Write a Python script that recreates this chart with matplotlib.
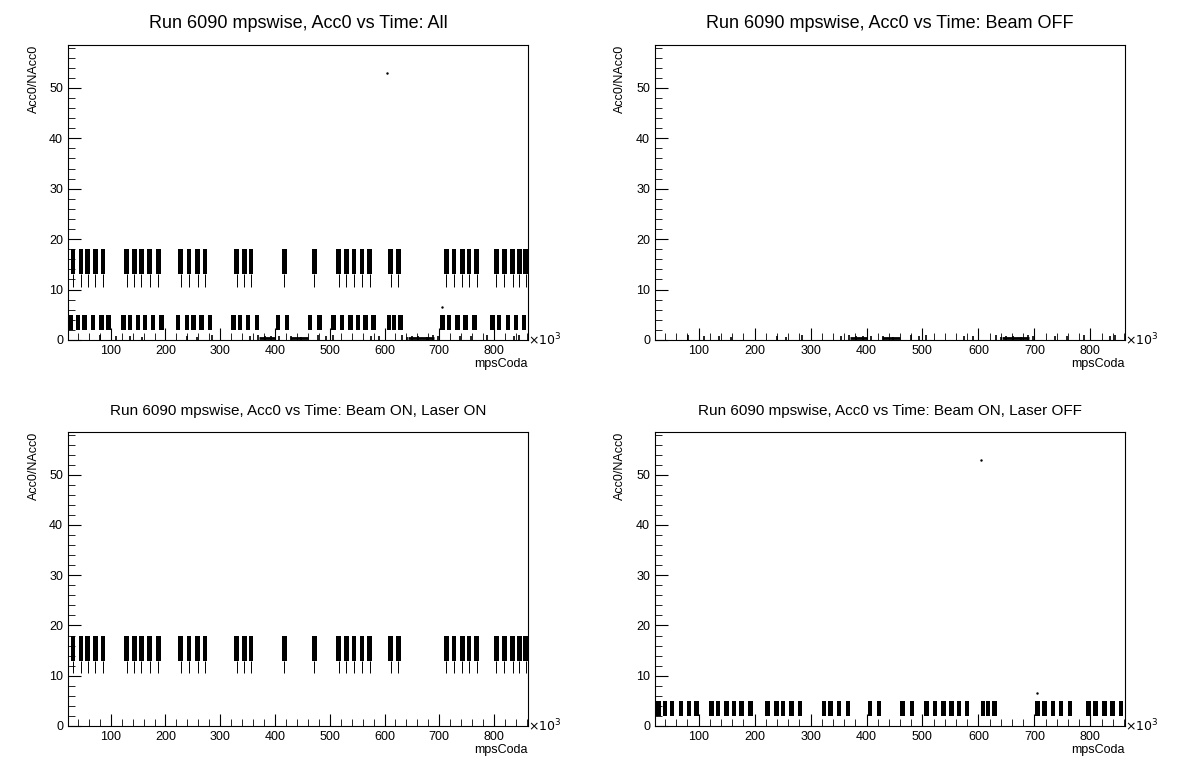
import matplotlib
matplotlib.use("Agg")
import matplotlib.pyplot as plt
from matplotlib.ticker import MultipleLocator

plt.rcParams['font.family'] = ['Liberation Sans', 'DejaVu Sans']

# laser ON bursts (x in k mpsCoda)
on_x = [31,46,58,72,86, 129,143,156,171,187, 228,243,259,272, 330,344,356, 417, 472,
        516,530,544,559,573, 611,625, 713,727,742,754,768, 804,819,834,846,858]
on_lo = [13.0]*36
on_hi = [18]*36
on_tail = [10.5]*36
# laser OFF bursts
off_x = [28,40,52,68,83,96, 123,135,150,163,177,193, 223,239,251,266,281, 324,336,351,367,
         406,422, 464,481, 507,522,538,552,565,580, 608,617,629, 706,718,733,748,764,
         797,809,825,840,855]
off_lo = [2.0]*len(off_x)
off_hi = [5.0]*len(off_x)
# beam off marks
boff_x = [81,110,136,157,240,257,285,354,369,381,393,408,429,447,479,494,506,575,590,
          632,641,650,662,677,689,698,737,758,788,836,845]
boff_h = [1.0,0.8,0.7,0.6,0.8,0.6,1.0,0.7,0.9,0.8,0.7,0.8,0.7,0.6,0.9,0.8,1.0,0.7,0.8,
          0.9,0.6,0.7,0.8,0.6,0.9,0.8,0.7,0.8,0.9,0.7,1.0]
boff_band_start = [370, 428, 643]
boff_band_end = [400, 460, 690]
outlier_x = [605, 705]
outlier_y = [53, 6.5]

fig = plt.figure(figsize=(11.96, 7.72), dpi=100)
rects = [[68/1196, 1-340/772, 460/1196, 295/772],
         [655/1196, 1-340/772, 470/1196, 295/772],
         [68/1196, 1-726/772, 460/1196, 294/772],
         [655/1196, 1-726/772, 470/1196, 294/772]]
titles = ["Run 6090 mpswise, Acc0 vs Time: All",
          "Run 6090 mpswise, Acc0 vs Time: Beam OFF",
          "Run 6090 mpswise, Acc0 vs Time: Beam ON, Laser ON",
          "Run 6090 mpswise, Acc0 vs Time: Beam ON, Laser OFF"]
show_on = [True, False, True, False]
show_off = [True, False, False, True]
show_boff = [True, True, False, False]
show_out = [True, False, False, True]

for i in range(4):
    ax = fig.add_axes(rects[i])
    ax.set_xlim(22, 862)
    ax.set_ylim(0, 58.5)
    if show_on[i]:
        ax.bar(on_x, [h-l for h, l in zip(on_hi, on_lo)], bottom=on_lo, width=8.5,
               color='black', zorder=3)
        ax.vlines(on_x, on_tail, on_lo, color='black', lw=0.7, zorder=3)
    if show_off[i]:
        ax.bar(off_x, [h-l for h, l in zip(off_hi, off_lo)], bottom=off_lo, width=8,
               color='black', zorder=3)
    if show_boff[i]:
        ax.vlines(boff_x, 0, boff_h, color='black', lw=1.2)
        for s, e in zip(boff_band_start, boff_band_end):
            ax.hlines([0.4], s, e, color='black', lw=2)
    if show_out[i]:
        ax.plot(outlier_x, outlier_y, 'k.', ms=1.5)
    ax.xaxis.set_major_locator(MultipleLocator(100))
    ax.xaxis.set_minor_locator(MultipleLocator(20))
    ax.yaxis.set_major_locator(MultipleLocator(10))
    ax.yaxis.set_minor_locator(MultipleLocator(2))
    ax.tick_params(which='both', direction='in', labelsize=9)
    ax.tick_params(which='major', length=9)
    ax.tick_params(which='minor', length=5)
    for sp in ax.spines.values():
        sp.set_linewidth(0.8)
    ax.set_title(titles[i], fontsize=13 if i < 2 else 11, pad=12)
    ax.text(1.0, -0.06, "mpsCoda", transform=ax.transAxes, ha='right', va='top', fontsize=9)
    ax.text(1.0, 0.0, r"$\times10^{3}$", transform=ax.transAxes, ha='left', va='center', fontsize=9)
    ax.text(-0.075, 1.0, "Acc0/NAcc0", transform=ax.transAxes, ha='center', va='top',
            rotation=90, fontsize=9)

fig.savefig("out.png", dpi=100)
